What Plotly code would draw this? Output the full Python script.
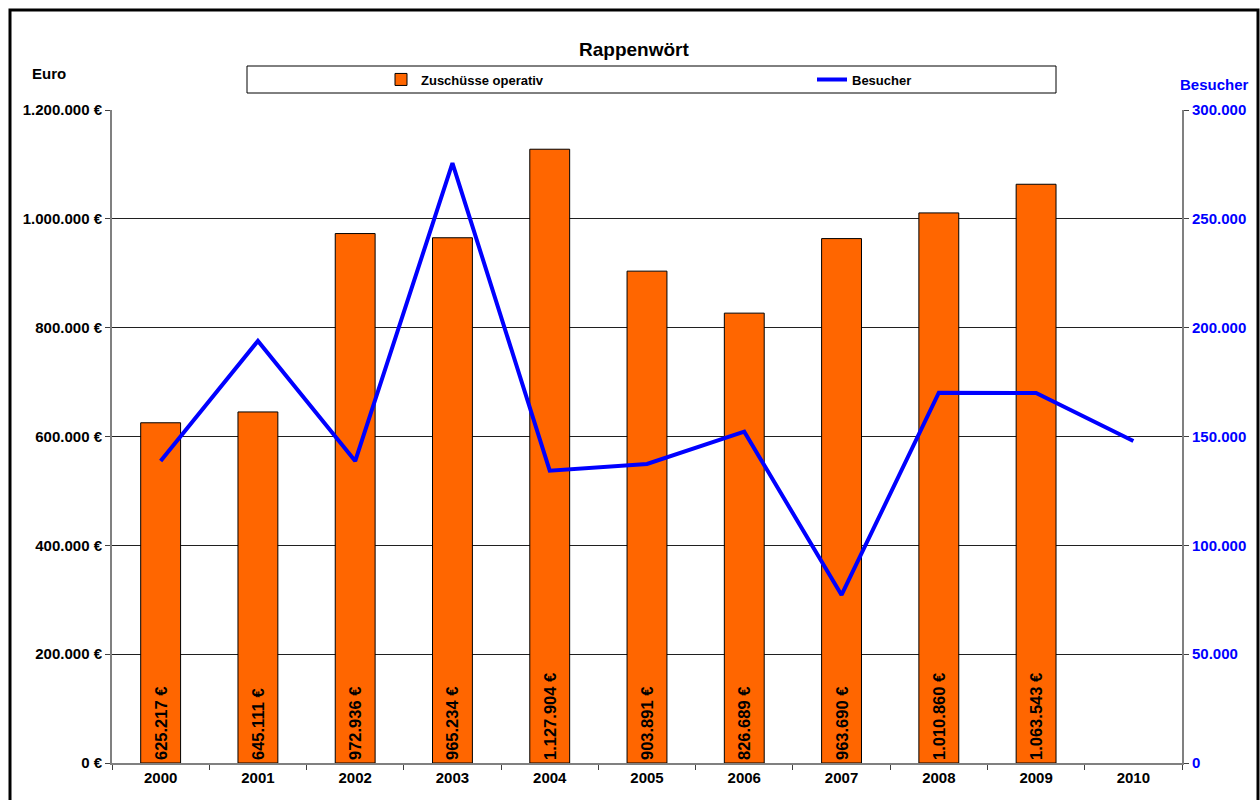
import plotly.graph_objects as go

years = ["2000", "2001", "2002", "2003", "2004", "2005", "2006", "2007", "2008", "2009", "2010"]
zuschuesse = [625217, 645111, 972936, 965234, 1127904, 903891, 826689, 963690, 1010860, 1063543, None]
besucher = [138700, 193900, 138700, 275600, 134300, 137400, 152200, 77200, 170100, 170000, 147900]

left_ticks = [0, 200000, 400000, 600000, 800000, 1000000, 1200000]
right_ticks = [0, 50000, 100000, 150000, 200000, 250000, 300000]

def de(v):
    return f"{v:,}".replace(",", ".")

left_text = [de(v) + " €" for v in left_ticks]
right_text = [de(v) for v in right_ticks]

FONT = "Arial, Liberation Sans, sans-serif"

# plot area in pixels
L, R, T, B = 112, 1182, 110, 763
W, H = 1260, 800
def px(x):
    return (x - L) / (R - L)
def py(y):
    return (B - y) / (B - T)

fig = go.Figure()
fig.add_trace(go.Bar(
    x=years, y=zuschuesse, name="Zuschüsse operativ",
    marker=dict(color="#FF6600", line=dict(color="#000000", width=1)),
    width=0.41,
    texttemplate="%{y:,.0f} €", textposition="inside", textangle=-90,
    insidetextanchor="start",
    textfont=dict(family=FONT, size=16.5, color="#000000", weight="bold"),
    yaxis="y", legend="legend",
))
fig.add_trace(go.Scatter(
    x=years, y=besucher, name="Besucher", mode="lines",
    line=dict(color="#0000FF", width=4),
    yaxis="y2", legend="legend2",
))

legend_font = dict(family=FONT, size=13, color="#000000", weight="bold")
fig.update_layout(
    width=W, height=H,
    margin=dict(l=L, r=W - R, t=T, b=H - B, pad=0, autoexpand=False),
    paper_bgcolor="white", plot_bgcolor="white",
    separators=",.",
    font=dict(family=FONT, size=15, color="#000000"),
    showlegend=True,
    legend=dict(orientation="h", x=px(381), xanchor="left", y=py(79.5), yanchor="middle",
                bgcolor="rgba(0,0,0,0)", borderwidth=0, font=legend_font),
    legend2=dict(orientation="h", x=px(812), xanchor="left", y=py(79.5), yanchor="middle",
                 bgcolor="rgba(0,0,0,0)", borderwidth=0, font=legend_font, itemwidth=30),
    xaxis=dict(type="category", tickson="boundaries", ticks="outside", ticklen=5,
               tickcolor="#404040", showline=True, linecolor="#808080", linewidth=2,
               showgrid=False,
               tickfont=dict(family=FONT, size=15, color="#000000", weight="bold"),
               range=[-0.5, 10.5]),
    yaxis=dict(range=[0, 1200000], tickvals=left_ticks, ticktext=left_text,
               ticks="outside", ticklen=5, tickcolor="#404040",
               showline=True, linecolor="#808080", linewidth=2,
               showgrid=True, gridcolor="#202020", gridwidth=1, zeroline=False,
               tickfont=dict(family=FONT, size=15, color="#000000", weight="bold")),
    yaxis2=dict(range=[0, 300000], tickvals=right_ticks, ticktext=right_text,
                overlaying="y", side="right",
                ticks="outside", ticklen=5, tickcolor="#404040",
                showline=True, linecolor="#808080", linewidth=2,
                showgrid=False, zeroline=False,
                tickfont=dict(family=FONT, size=15, color="#0000FF", weight="bold")),
    bargap=0.59,
)

shapes = [
    dict(type="rect", xref="paper", yref="paper", x0=px(10), x1=px(1258), y0=py(815), y1=py(10),
         line=dict(color="#000000", width=3), fillcolor="rgba(0,0,0,0)", layer="above"),
    dict(type="rect", xref="paper", yref="paper", x0=px(247), x1=px(1056), y0=py(93), y1=py(66),
         line=dict(color="#000000", width=1), fillcolor="rgba(0,0,0,0)"),
]
fig.update_layout(shapes=shapes)

annotations = [
    dict(text="Rappenwört", x=px(634), y=py(50), xref="paper", yref="paper", showarrow=False,
         font=dict(family=FONT, size=19, color="#000000", weight="bold"), xanchor="center", yanchor="middle"),
    dict(text="Euro", x=px(49), y=py(74), xref="paper", yref="paper", showarrow=False,
         font=dict(family=FONT, size=15, color="#000000", weight="bold"), xanchor="center", yanchor="middle"),
    dict(text="Besucher", x=px(1214), y=py(84), xref="paper", yref="paper", showarrow=False,
         font=dict(family=FONT, size=15, color="#0000FF", weight="bold"), xanchor="center", yanchor="middle"),
]
fig.update_layout(annotations=annotations)

fig.write_html("out.html", config={"displayModeBar": False},
               post_script="document.body.style.margin='0';document.body.style.overflow='hidden';")
